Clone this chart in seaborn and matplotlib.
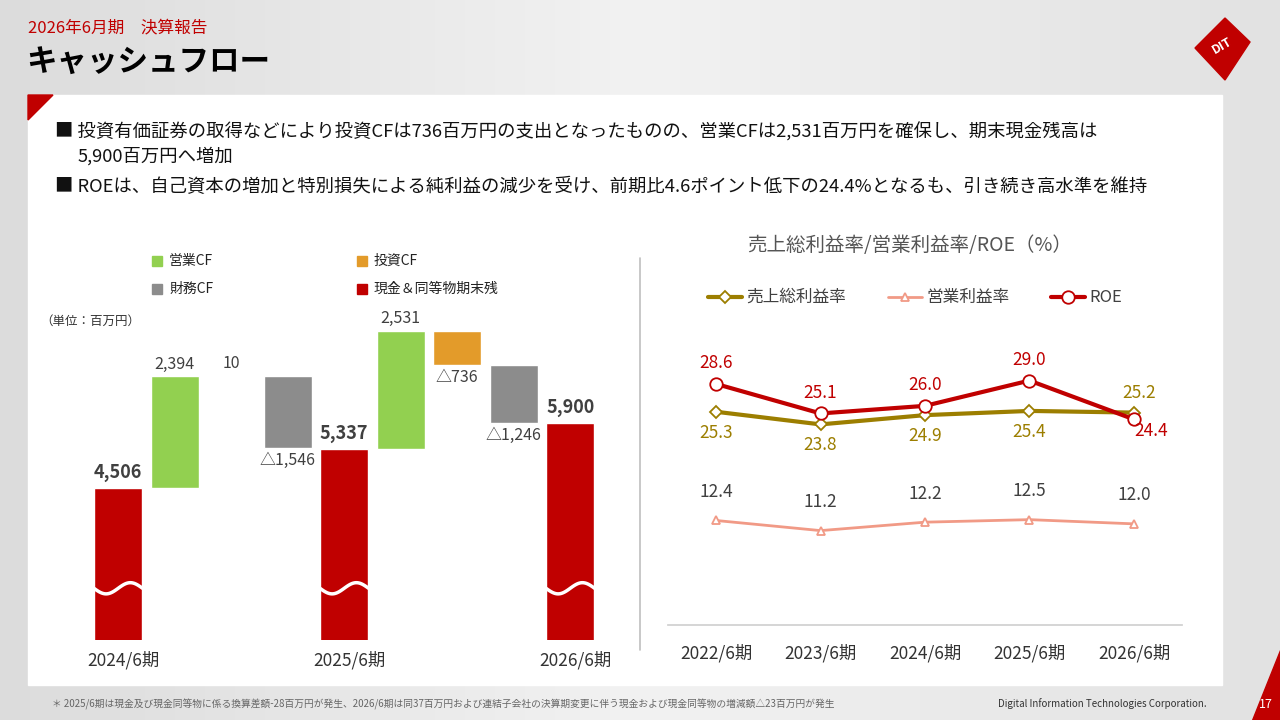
import numpy as np
import matplotlib
matplotlib.use("Agg")
import matplotlib.pyplot as plt
import seaborn as sns
import pandas as pd
from matplotlib.patches import Polygon, Rectangle

sns.set_theme(style="white")
plt.rcParams['font.family'] = ['Noto Sans CJK JP', 'DejaVu Sans']

# ---- data ----
wf_labels = ["2024末", "営業CF", "投資CF", "財務CF", "2025末", "営業CF", "投資CF", "財務CF", "2026末"]
wf_kind = ["end", "op", "inv", "fin", "end", "op", "inv", "fin", "end"]
wf_values = [4506, 2394, 10, -1546, 5337, 2531, -736, -1246, 5900]
wf_text = ["4,506", "2,394", "10", "△1,546", "5,337", "2,531", "△736", "△1,246", "5,900"]
period_labels = ["2024/6期", "2025/6期", "2026/6期"]
years = ["2022/6期", "2023/6期", "2024/6期", "2025/6期", "2026/6期"]
gross_margin = [25.3, 23.8, 24.9, 25.4, 25.2]
op_margin = [12.4, 11.2, 12.2, 12.5, 12.0]
roe = [28.6, 25.1, 26.0, 29.0, 24.4]

kind_color = {"end": "#C00000", "op": "#92D050", "inv": "#E39B2A", "fin": "#8C8C8C"}
W, H = 1280, 720
fig = plt.figure(figsize=(12.8, 7.2), dpi=100)

def fx(x): return x / W
def fy(y): return 1 - y / H

# background
bg = fig.add_axes([0, 0, 1, 1], zorder=-10)
grad = np.linspace(0, 1, 256)[None, :]
bg.imshow(np.vstack([grad] * 2), aspect='auto', cmap=matplotlib.colors.LinearSegmentedColormap.from_list('g', ['#DCDCDC', '#F2F2F2', '#E2E2E2']), extent=[0, 1, 0, 1])
bg.set_xlim(0, 1); bg.set_ylim(0, 1); bg.axis('off')
bg.add_patch(Rectangle((fx(28), fy(685)), fx(1222 - 28), fy(95) - fy(685), color='white'))
bg.add_patch(Polygon([(fx(28), fy(95)), (fx(53), fy(95)), (fx(28), fy(120))], color='#C00000'))
bg.add_patch(Polygon([(fx(1252), fy(720)), (fx(1280), fy(720)), (fx(1280), fy(650))], color='#C00000'))
bg.add_patch(Polygon([(fx(1225), fy(18)), (fx(1250), fy(42)), (fx(1225), fy(80)), (fx(1195), fy(48))], color='#C00000'))
bg.text(fx(1222), fy(46), "DIT", color='white', fontsize=9, fontweight='bold', ha='center', va='center', rotation=30)
bg.plot([fx(640), fx(640)], [fy(258), fy(650)], color='#BFBFBF', lw=1.2)

fig.text(fx(28), fy(28), "2026年6月期　決算報告", color='#C00000', fontsize=12, va='center')
fig.text(fx(26), fy(63), "キャッシュフロー", color='black', fontsize=22, fontweight='bold', va='center')
fig.text(fx(55), fy(132), "■ 投資有価証券の取得などにより投資CFは736百万円の支出となったものの、営業CFは2,531百万円を確保し、期末現金残高は", fontsize=13.2, va='center', color='#111111')
fig.text(fx(78), fy(156), "5,900百万円へ増加", fontsize=13.2, va='center', color='#111111')
fig.text(fx(55), fy(187), "■ ROEは、自己資本の増加と特別損失による純利益の減少を受け、前期比4.6ポイント低下の24.4%となるも、引き続き高水準を維持", fontsize=13.2, va='center', color='#111111')
fig.text(fx(52), fy(704), "＊ 2025/6期は現金及び現金同等物に係る換算差額-28百万円が発生、2026/6期は同37百万円および連結子会社の決算期変更に伴う現金および現金同等物の増減額△23百万円が発生", fontsize=7, color='#666666', va='center')
fig.text(fx(1207), fy(704), "Digital Information Technologies Corporation.", fontsize=7, color='#333333', va='center', ha='right')
fig.text(fx(1266), fy(704), "17", fontsize=9, color='white', va='center', ha='center')

# legend left
for (x, y, c, t) in [(157, 261, "op", "営業CF"), (362, 261, "inv", "投資CF"), (157, 289, "fin", "財務CF"), (362, 289, "end", "現金＆同等物期末残")]:
    bg.add_patch(Rectangle((fx(x - 5), fy(y + 5)), fx(10), fy(0) - fy(10), color=kind_color[c]))
    fig.text(fx(x + 12), fy(y), t, fontsize=10, va='center', color='#222222')
fig.text(fx(40), fy(321), "（単位：百万円）", fontsize=9, va='center', color='#333333')

# ---- waterfall ----
ax = fig.add_axes([fx(60), fy(640), fx(560), fy(300) - fy(640)])
bottoms, heights = [], []
run = 0
for k, v in zip(wf_kind, wf_values):
    if k == "end":
        bottoms.append(0); heights.append(v); run = v
    else:
        if v >= 0:
            bottoms.append(run); heights.append(v)
        else:
            bottoms.append(run + v); heights.append(-v)
        run += v
xs = np.arange(len(wf_values))
ax.bar(xs, heights, bottom=bottoms, width=0.85, color=[kind_color[k] for k in wf_kind])
ax.set_xlim(-1.03, 8.88)
ax.set_ylim(1240, 8536)
ax.axis('off')
for i, (k, v, t) in enumerate(zip(wf_kind, wf_values, wf_text)):
    top = bottoms[i] + heights[i]
    if k == "end":
        ax.text(i, top + 120, t, fontsize=13, fontweight='bold', color='#404040', ha='center', va='bottom')
        wx = np.linspace(i - 0.43, i + 0.43, 50)
        ax.plot(wx, 2350 + 120 * np.sin((wx - i) * 2 * np.pi / 0.86), color='white', lw=2.5)
    elif v >= 0:
        ax.text(i, top + 80, t, fontsize=11.5, color='#404040', ha='center', va='bottom')
    else:
        ax.text(i, bottoms[i] - 80, t, fontsize=11.5, color='#404040', ha='center', va='top')
for i, lab in zip([0, 4, 8], period_labels):
    ax.text(i + 0.1, 1000, lab, fontsize=12.5, ha='center', va='top', color='#333333')

# ---- line chart ----
ax2 = fig.add_axes([fx(668), fy(625), fx(514), fy(330) - fy(625)])
df = pd.DataFrame({"year": years * 3,
                   "value": gross_margin + op_margin + roe,
                   "series": ["売上総利益率"] * 5 + ["営業利益率"] * 5 + ["ROE"] * 5})
pal = {"売上総利益率": "#9C7E00", "営業利益率": "#F19A86", "ROE": "#C00000"}
mk = {"売上総利益率": "D", "営業利益率": "^", "ROE": "o"}
lw = {"売上総利益率": 3, "営業利益率": 2, "ROE": 3}
for s in ["営業利益率", "売上総利益率", "ROE"]:
    d = df[df.series == s]
    sns.lineplot(data=d, x="year", y="value", ax=ax2, color=pal[s], lw=lw[s], marker=mk[s],
                 markersize=6 if s != "ROE" else 9, markerfacecolor='white', markeredgecolor=pal[s],
                 markeredgewidth=1.3, sort=False, label=s)
ax2.set_ylim(0, 35)
ax2.set_xlim(-0.46, 4.46)
ax2.set_xlabel(""); ax2.set_ylabel("")
ax2.set_yticks([])
for sp in ["left", "right", "top"]:
    ax2.spines[sp].set_visible(False)
ax2.spines["bottom"].set_color('#D0D0D0')
ax2.tick_params(axis='x', labelsize=12.5, colors='#333333', pad=14, length=0)
ax2.legend_.remove()
for i in range(5):
    ax2.text(i, roe[i] + 1.4 if i < 4 else roe[i] - 0.3, f"{roe[i]:.1f}", color='#C00000', fontsize=12.5,
             ha='center' if i < 4 else 'left', va='bottom' if i < 4 else 'top')
    if i < 4:
        ax2.text(i, gross_margin[i] - 1.4, f"{gross_margin[i]:.1f}", color='#9C7E00', fontsize=12.5, ha='center', va='top')
    else:
        ax2.text(i + 0.05, gross_margin[i] + 1.2, f"{gross_margin[i]:.1f}", color='#9C7E00', fontsize=12.5, ha='center', va='bottom')
    ax2.text(i, op_margin[i] + 2.3, f"{op_margin[i]:.1f}", color='#404040', fontsize=12.5, ha='center', va='bottom')

fig.text(fx(910), fy(245), "売上総利益率/営業利益率/ROE（%）", fontsize=14, color='#555555', ha='center', va='center')
for (x, s, tx) in [(725, "売上総利益率", "売上総利益率"), (905, "営業利益率", "営業利益率"), (1068, "ROE", "ROE")]:
    bg.plot([fx(x - 17), fx(x + 17)], [fy(297), fy(297)], color=pal[s], lw=lw[s])
    bg.plot([fx(x)], [fy(297)], marker=mk[s], color=pal[s], markerfacecolor='white', markersize=6 if s != "ROE" else 9, markeredgewidth=1.3)
    fig.text(fx(x + 21), fy(297), tx, fontsize=12, va='center', color='#404040')

fig.savefig("out.png", dpi=100)
